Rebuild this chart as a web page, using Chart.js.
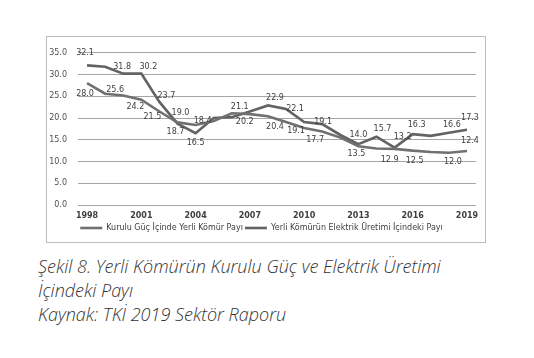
<!DOCTYPE html>
<html>
<head>
<meta charset="utf-8">
<script src="https://cdn.jsdelivr.net/npm/chart.js@4"></script>
<style>
  body { margin: 0; background: #fff; width: 534px; height: 358px; position: relative; overflow: hidden; }
  #frame { position: absolute; left: 46px; top: 36px; width: 438px; height: 205px; border: 1px solid #bdbdbd; }
  .cap { position: absolute; left: 38px; font-family: "Open Sans", Lato, sans-serif; font-style: italic; font-weight: 300; font-size: 18px; color: #333; white-space: nowrap; }
</style>
</head>
<body>
<div id="frame"><canvas id="chart" width="438" height="205"></canvas></div>
<div class="cap" style="top:254px">Şekil 8. Yerli Kömürün Kurulu Güç ve Elektrik Üretimi</div>
<div class="cap" style="top:278px">İçindeki Payı</div>
<div class="cap" style="top:302px">Kaynak: TKİ 2019 Sektör Raporu</div>
<script>
// --- data ---
const years = [1998, 1999, 2000, 2001, 2002, 2003, 2004, 2005, 2006, 2007, 2008,
               2009, 2010, 2011, 2012, 2013, 2014, 2015, 2016, 2017, 2018, 2019];
const xTickYears = [1998, 2001, 2004, 2007, 2010, 2013, 2016, 2019];
const yTicks = [0, 5, 10, 15, 20, 25, 30, 35];

// Kurulu Güç İçinde Yerli Kömür Payı (%)
const kuruluGuc = [28.0, 25.6, 25.2, 24.2, 21.5, 19.0, 18.4, 19.3, 21.1, 20.9, 20.4,
                   19.1, 17.7, 16.9, 15.5, 13.5, 13.0, 12.9, 12.5, 12.2, 12.0, 12.4];
// Yerli Kömürün Elektrik Üretimi İçindeki Payı (%)
const elektrikUretimi = [32.1, 31.8, 30.2, 30.2, 23.7, 18.7, 16.5, 20.0, 20.2, 21.5, 22.9,
                         22.1, 19.1, 18.6, 16.1, 14.0, 15.7, 13.2, 16.3, 15.9, 16.6, 17.3];

// years that carry a value label in the figure
const kuruluLabelYears = [1998, 1999, 2001, 2002, 2003, 2004, 2006, 2008, 2009, 2010, 2013, 2015, 2016, 2018, 2019];
const elektrikLabelYears = [1998, 1999, 2001, 2002, 2003, 2004, 2006, 2008, 2009, 2010, 2013, 2014, 2015, 2016, 2018, 2019];

// label offsets from the point [dx, dy]
const kuruluOffsets = {
  1998: [-2, 11], 1999: [10, -4], 2001: [-6, 7], 2002: [-7, 5], 2003: [3, -9], 2004: [7, -4],
  2006: [8, -6], 2008: [7, 11], 2009: [10, 9], 2010: [11, 12], 2013: [-2, 8], 2015: [-5, 11],
  2016: [2, 10], 2018: [4, 9], 2019: [3, -10]
};
const elektrikOffsets = {
  1998: [-2, -12], 1999: [17, 0], 2001: [7, -7], 2002: [7, -6], 2003: [-2, 8], 2004: [0, 10],
  2006: [13, 5], 2008: [7, -7], 2009: [9, 0], 2010: [19, 0], 2013: [0, -9], 2014: [6, -8],
  2015: [8, -11], 2016: [4, -9], 2018: [3, -8], 2019: [3, -12]
};

const valueLabels = {
  id: 'valueLabels',
  afterDatasetsDraw(chart) {
    const ctx = chart.ctx;
    ctx.save();
    ctx.font = '8px "DejaVu Sans"';
    ctx.fillStyle = '#404040';
    ctx.textAlign = 'center';
    ctx.textBaseline = 'middle';
    chart.data.datasets.forEach((ds, di) => {
      const meta = chart.getDatasetMeta(di);
      meta.data.forEach((pt, i) => {
        const off = ds.labelOffsets[years[i]];
        if (!ds.labelYears.includes(years[i]) || !off) return;
        ctx.fillText(ds.data[i].toFixed(1), pt.x + off[0], pt.y + off[1]);
      });
    });
    ctx.restore();
  }
};

new Chart(document.getElementById('chart'), {
  type: 'line',
  data: {
    labels: years,
    datasets: [
      {
        label: 'Kurulu Güç İçinde Yerli Kömür Payı',
        data: kuruluGuc,
        borderColor: '#707070',
        backgroundColor: '#707070',
        borderWidth: 2.6,
        pointRadius: 0,
        tension: 0,
        labelYears: kuruluLabelYears,
        labelOffsets: kuruluOffsets
      },
      {
        label: 'Yerli Kömürün Elektrik Üretimi İçindeki Payı',
        data: elektrikUretimi,
        borderColor: '#636363',
        backgroundColor: '#636363',
        borderWidth: 2.6,
        pointRadius: 0,
        tension: 0,
        labelYears: elektrikLabelYears,
        labelOffsets: elektrikOffsets
      }
    ]
  },
  options: {
    responsive: false,
    animation: false,
    layout: { padding: { top: 10, right: 9, bottom: 0, left: 0 } },
    plugins: {
      tooltip: { enabled: false },
      legend: {
        position: 'bottom',
        labels: {
          usePointStyle: true,
          pointStyle: 'line',
          pointStyleWidth: 22,
          boxHeight: 8,
          padding: 2,
          color: '#404040',
          font: { family: '"DejaVu Sans"', size: 8 }
        }
      }
    },
    scales: {
      x: {
        offset: true,
        grid: { display: false, drawTicks: false },
        border: { display: false },
        ticks: {
          autoSkip: false,
          maxRotation: 0,
          padding: 6,
          color: '#404040',
          font: { family: '"DejaVu Sans"', size: 8, weight: 'bold' },
          callback: (v, i) => xTickYears.includes(years[i]) ? String(years[i]) : ''
        },
        afterFit: s => { s.height = 17; }
      },
      y: {
        min: 0,
        max: 35,
        afterBuildTicks: s => { s.ticks = yTicks.map(v => ({ value: v })); },
        grid: { color: '#a6a6a6', drawTicks: false, lineWidth: 1 },
        border: { display: false },
        ticks: {
          padding: 11,
          color: '#505050',
          font: { family: '"DejaVu Sans"', size: 8 },
          callback: v => v.toFixed(1)
        },
        afterFit: s => { s.width = 31; }
      }
    }
  },
  plugins: [valueLabels]
});
</script>
</body>
</html>
